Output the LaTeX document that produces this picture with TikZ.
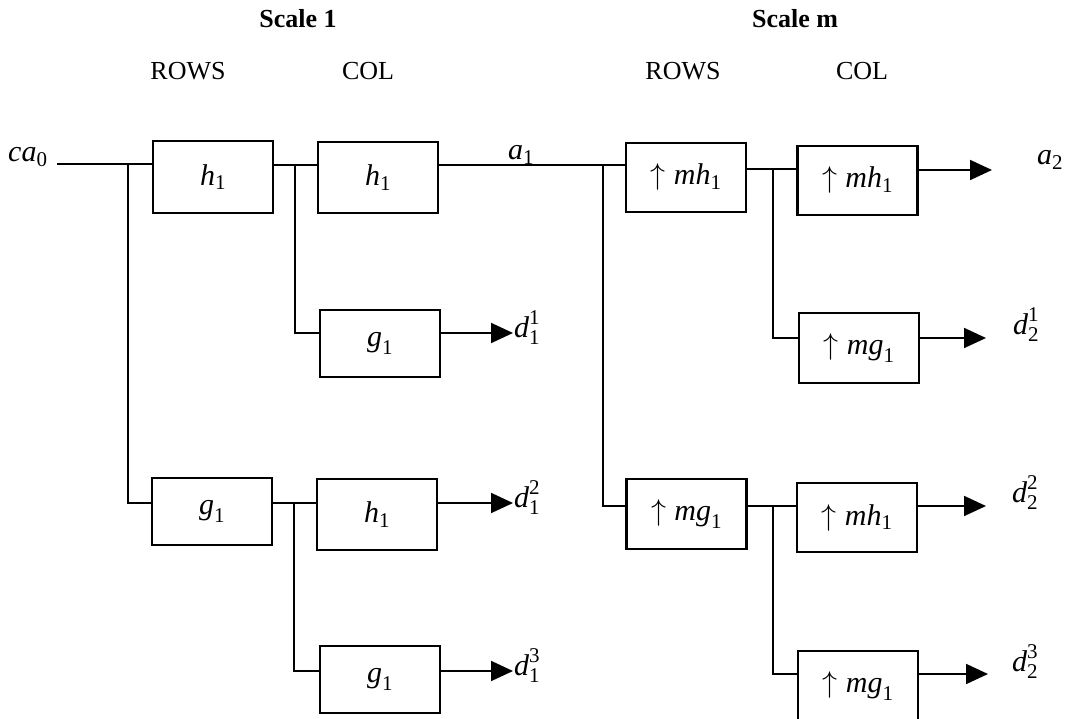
\RequirePackage{fix-cm}
\documentclass[tikz,border=0pt]{standalone}
\usepackage{amsmath}
\usepackage{fontspec}
\setmainfont{Liberation Serif}
\usetikzlibrary{arrows.meta}
\newcommand\iv[1]{\text{\itshape #1}}
\newcommand\nv[1]{\text{#1}}
\begin{document}
\begin{tikzpicture}[x=1pt,y=-1pt,
  blk/.style={draw,line width=2.2pt,minimum width=120pt,minimum height=70pt,inner sep=0pt,font=\fontsize{30}{36}\selectfont},
  lbl/.style={anchor=base west,inner sep=0pt,font=\fontsize{30}{36}\selectfont},
  hd/.style={anchor=base,inner sep=0pt,font=\fontsize{26}{31}\selectfont},
  wire/.style={line width=1.8pt},
  arr/.style={wire,-{Triangle[length=22pt,width=20pt]}}]
\clip (0,0) rectangle (1065,719);

% headings
\node[hd] (s1) at (298,28) {\bfseries Scale 1};
\node[hd] (r1) at (188,80) {ROWS};
\node[hd] (c1) at (368,80) {COL};
\node[hd] (sm) at (795,28) {\bfseries Scale m};
\node[hd] (r2) at (683,80) {ROWS};
\node[hd] (c2) at (862,80) {COL};

% boxes, scale 1
\node[blk,minimum height=72pt] (rh1) at (213,177) {$\iv{h}_{\nv1}$};
\node[blk,minimum height=71pt] (ch1) at (378,177.5) {$\iv{h}_{\nv1}$};
\node[blk,minimum height=67pt] (cg1) at (380,343.5) {$\iv{g}_{\nv1}$};
\node[blk,minimum height=67pt] (rg1) at (212,511.5) {$\iv{g}_{\nv1}$};
\node[blk,minimum height=71pt] (ch1b) at (377,514.5) {$\iv{h}_{\nv1}$};
\node[blk,minimum height=67pt] (cg1b) at (380,679.5) {$\iv{g}_{\nv1}$};
% boxes, scale m
\node[blk,minimum height=69pt] (rmh) at (686,177.5) {$\uparrow\iv{mh}_{\nv1}$};
\node[blk,minimum height=69pt] (cmh) at (857.5,180.5) {$\uparrow\iv{mh}_{\nv1}$};
\node[blk] (cmg) at (859,348) {$\uparrow\iv{mg}_{\nv1}$};
\node[blk] (rmg) at (686.5,514) {$\uparrow\iv{mg}_{\nv1}$};
\node[blk,minimum height=69pt] (cmh2) at (857,517.5) {$\uparrow\iv{mh}_{\nv1}$};
\node[blk] (cmg2) at (858,686) {$\uparrow\iv{mg}_{\nv1}$};

% labels
\node[lbl] (ca0) at (8,162) {$\iv{ca}_{\nv0}$};
\node[lbl] (a1) at (508,160) {$\iv{a}_{\nv1}$};
\node[lbl] (a2) at (1037,165) {$\iv{a}_{\nv2}$};
\node[lbl] (d11) at (514,337) {$\iv{d}^{\nv1}_{\nv1}$};
\node[lbl] (d12) at (514,507) {$\iv{d}^{\nv2}_{\nv1}$};
\node[lbl] (d13) at (514,675) {$\iv{d}^{\nv3}_{\nv1}$};
\node[lbl] (d21) at (1013,334) {$\iv{d}^{\nv1}_{\nv2}$};
\node[lbl] (d22) at (1012,502) {$\iv{d}^{\nv2}_{\nv2}$};
\node[lbl] (d23) at (1012,671) {$\iv{d}^{\nv3}_{\nv2}$};

% junctions and free ends
\coordinate (in) at (57,164);
\coordinate (j1) at (128,164);
\coordinate (j2) at (295,165);
\coordinate (j3) at (603,165);
\coordinate (j4) at (773,169);
\coordinate (j5) at (294,503);
\coordinate (j6) at (773,506);
\coordinate (ta2) at (992,170);
\coordinate (t11) at (513,333);
\coordinate (t12) at (513,503);
\coordinate (t13) at (513,671);
\coordinate (t21) at (986,338);
\coordinate (t22) at (986,506);
\coordinate (t23) at (988,674);

% wires scale 1
\draw[wire] (in) -- (rh1.west |- in);
\draw[wire] (j1) |- (rg1.west |- j5);
\draw[wire] (rh1.east |- j2) -- (ch1.west |- j2);
\draw[wire] (j2) |- (cg1.west |- t11);
\draw[arr] (cg1.east |- t11) -- (t11);
\draw[wire] (rg1.east |- j5) -- (ch1b.west |- j5);
\draw[wire] (j5) |- (cg1b.west |- t13);
\draw[arr] (ch1b.east |- t12) -- (t12);
\draw[arr] (cg1b.east |- t13) -- (t13);
% link to scale m
\draw[wire] (ch1.east |- j3) -- (rmh.west |- j3);
\draw[wire] (j3) |- (rmg.west |- j6);
% wires scale m
\draw[wire] (rmh.east |- j4) -- (cmh.west |- j4);
\draw[wire] (j4) |- (cmg.west |- t21);
\draw[arr] (cmh.east |- ta2) -- (ta2);
\draw[arr] (cmg.east |- t21) -- (t21);
\draw[wire] (rmg.east |- j6) -- (cmh2.west |- j6);
\draw[wire] (j6) |- (cmg2.west |- t23);
\draw[arr] (cmh2.east |- t22) -- (t22);
\draw[arr] (cmg2.east |- t23) -- (t23);
\end{tikzpicture}
\end{document}
